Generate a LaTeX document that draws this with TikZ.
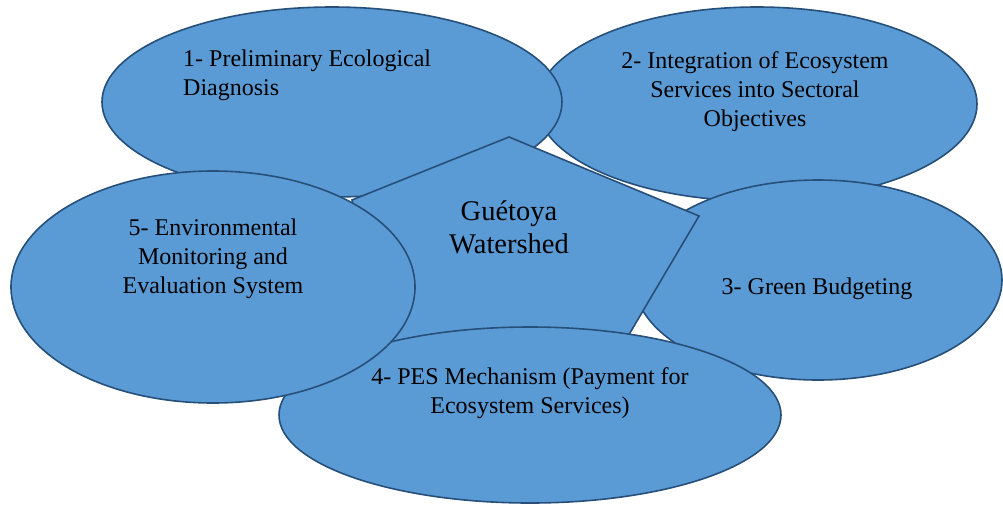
\documentclass[tikz,border=0pt]{standalone}
\usepackage{fontspec}
\setmainfont{Liberation Serif}
\usetikzlibrary{shapes.geometric}
\definecolor{bubblefill}{HTML}{5B9BD5}
\definecolor{bubbleline}{HTML}{264F7A}
\begin{document}
\begin{tikzpicture}[x=1pt,y=-1pt,
  bubble/.style={ellipse, draw=bubbleline, fill=bubblefill, line width=1.6pt, inner sep=0pt},
  bubbletext/.style={font=\fontsize{24}{29}\selectfont, inner sep=0pt, text=black},
  hubtext/.style={font=\fontsize{28.5}{33}\selectfont, inner sep=0pt, text=black, align=center}
]
\useasboundingbox (0,0) rectangle (1003,504);

% the five stages, back to front, with the watershed pentagon in between
\node[bubble, minimum width=440pt, minimum height=194pt] (e2) at (757,104) {};
\node[bubble, minimum width=460pt, minimum height=190pt] (e1) at (332,102) {};
\node[bubble, minimum width=368pt, minimum height=200pt] (e3) at (818,280) {};
\draw[fill=bubblefill, draw=bubbleline, line width=1.6pt, line join=miter]
  (509,137) -- (699,216) -- (611,365) -- (385,360) -- (352,200) -- cycle;
\node[bubble, minimum width=502pt, minimum height=176pt] (e4) at (530,415) {};
\node[bubble, minimum width=404pt, minimum height=232pt] (e5) at (213,287) {};

% labels
\node[bubbletext, anchor=west, align=left] (t1) at (183,75) {1- Preliminary Ecological\\Diagnosis};
\node[bubbletext, align=center] (t2) at (755,92) {2- Integration of Ecosystem\\Services into Sectoral\\Objectives};
\node[bubbletext] (t3) at (817,288.5) {3- Green Budgeting};
\node[bubbletext, align=center] (t4) at (530,393.5) {4- PES Mechanism (Payment for\\Ecosystem Services)};
\node[bubbletext, align=center] (t5) at (213,259) {5- Environmental\\Monitoring and\\Evaluation System};
\node[hubtext] (hub) at (509,227) {Guétoya\\Watershed};
\end{tikzpicture}
\end{document}
